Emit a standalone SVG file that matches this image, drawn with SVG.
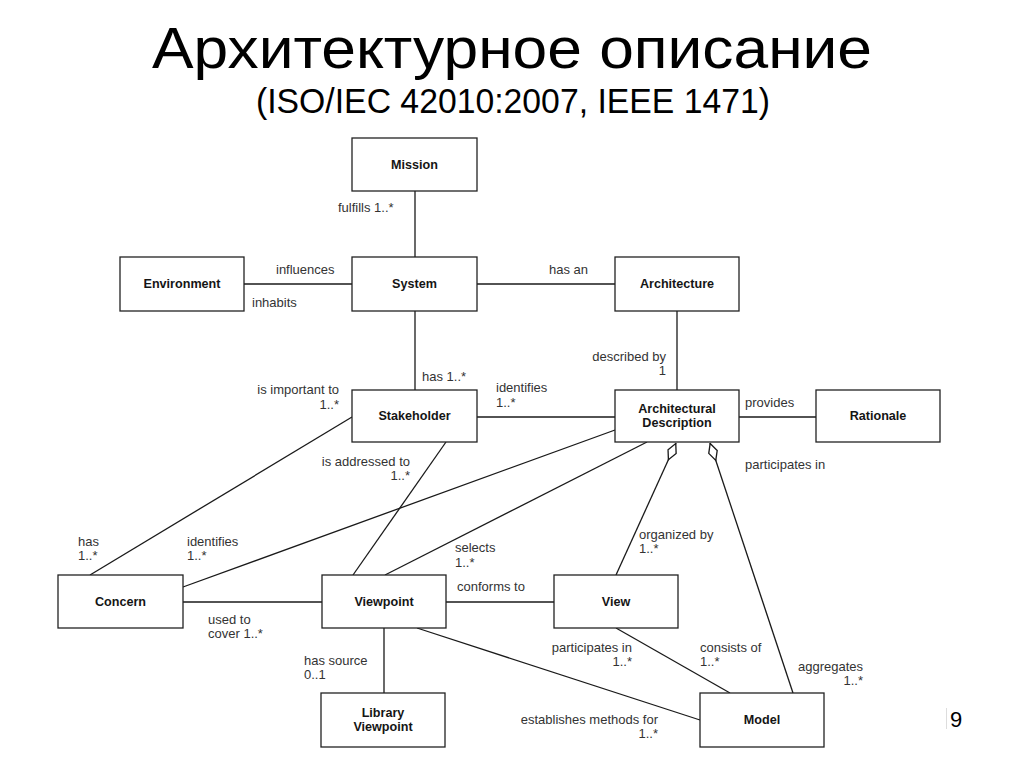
<svg xmlns="http://www.w3.org/2000/svg" width="1024" height="768" viewBox="0 0 1024 768">
<style>
.box{fill:#fff;stroke:#222;stroke-width:1.3}
.nt{font-family:"Liberation Sans",Arial,sans-serif;font-size:12.6px;font-weight:bold;fill:#151515;text-anchor:middle;dominant-baseline:central}
.lb{font-family:"Liberation Sans",Arial,sans-serif;font-size:13px;fill:#333}
.r{text-anchor:end}
.ln{stroke:#1a1a1a;stroke-width:1.3;fill:none}
.ttl{font-family:"Liberation Sans",Arial,sans-serif;fill:#000}
</style>
<defs>
<marker id="dia" markerUnits="userSpaceOnUse" markerWidth="20" markerHeight="12" refX="0" refY="5" orient="auto" viewBox="0 0 18 10">
<path d="M0.5,5 L8.5,1 L16.5,5 L8.5,9 Z" fill="#fff" stroke="#1a1a1a" stroke-width="1.2"/>
</marker>
</defs>
<rect width="1024" height="768" fill="#fff"/>
<g id="title">
<text class="ttl" x="512" y="68" font-size="58" text-anchor="middle" textLength="720" lengthAdjust="spacingAndGlyphs">Архитектурное описание</text>
<text class="ttl" x="513" y="113" font-size="35" text-anchor="middle" textLength="514" lengthAdjust="spacingAndGlyphs">(ISO/IEC 42010:2007, IEEE 1471)</text>
</g>
<g id="connectors">
<line class="ln" x1="415" y1="191" x2="415" y2="257"/>
<line class="ln" x1="244" y1="284" x2="352" y2="284"/>
<line class="ln" x1="477" y1="284" x2="615" y2="284"/>
<line class="ln" x1="415" y1="311" x2="415" y2="390"/>
<line class="ln" x1="677" y1="311" x2="677" y2="390"/>
<line class="ln" x1="477" y1="417" x2="615" y2="417"/>
<line class="ln" x1="739" y1="417" x2="816" y2="417"/>
<line class="ln" x1="352" y1="417" x2="90" y2="575"/>
<line class="ln" x1="446" y1="442" x2="353" y2="575"/>
<line class="ln" x1="615" y1="430" x2="183" y2="587"/>
<line class="ln" x1="647" y1="442" x2="385" y2="575"/>
<line class="ln" x1="183" y1="602" x2="322" y2="602"/>
<line class="ln" x1="446" y1="602" x2="554" y2="602"/>
<line class="ln" x1="384" y1="628" x2="384" y2="693"/>
<line class="ln" x1="417" y1="628" x2="700" y2="720"/>
<line class="ln" x1="616" y1="628" x2="730" y2="693"/>
<line class="ln" x1="676" y1="443" x2="616" y2="575" marker-start="url(#dia)"/>
<line class="ln" x1="710" y1="443" x2="793" y2="693" marker-start="url(#dia)"/>
</g>
<g id="labels">
<text class="lb" x="338" y="212">fulfills 1..*</text>
<text class="lb" x="276" y="274">influences</text>
<text class="lb" x="252" y="307">inhabits</text>
<text class="lb" x="549" y="274">has an</text>
<text class="lb r" x="666" y="361">described by</text>
<text class="lb r" x="666" y="375">1</text>
<text class="lb" x="422" y="381">has 1..*</text>
<text class="lb" x="496" y="392">identifies</text>
<text class="lb" x="496" y="407">1..*</text>
<text class="lb r" x="339" y="394">is important to</text>
<text class="lb r" x="339" y="409">1..*</text>
<text class="lb r" x="410" y="466">is addressed to</text>
<text class="lb r" x="410" y="480">1..*</text>
<text class="lb" x="745" y="407">provides</text>
<text class="lb" x="745" y="469">participates in</text>
<text class="lb" x="78" y="546">has</text>
<text class="lb" x="78" y="560">1..*</text>
<text class="lb" x="187" y="546">identifies</text>
<text class="lb" x="187" y="560">1..*</text>
<text class="lb" x="455" y="552">selects</text>
<text class="lb" x="455" y="567">1..*</text>
<text class="lb" x="639" y="539">organized by</text>
<text class="lb" x="639" y="553">1..*</text>
<text class="lb" x="457" y="591">conforms to</text>
<text class="lb" x="208" y="624">used to</text>
<text class="lb" x="208" y="638">cover 1..*</text>
<text class="lb" x="304" y="665">has source</text>
<text class="lb" x="304" y="679">0..1</text>
<text class="lb r" x="632" y="652">participates in</text>
<text class="lb r" x="632" y="666">1..*</text>
<text class="lb" x="700" y="652">consists of</text>
<text class="lb" x="700" y="666">1..*</text>
<text class="lb r" x="863" y="671">aggregates</text>
<text class="lb r" x="863" y="685">1..*</text>
<text class="lb r" x="658" y="724">establishes methods for</text>
<text class="lb r" x="658" y="738">1..*</text>
</g>
<g id="mission"><rect class="box" x="352" y="138" width="125" height="53"/><text class="nt" x="414.5" y="164.5">Mission</text></g>
<g id="environment"><rect class="box" x="120" y="257" width="124" height="54"/><text class="nt" x="182" y="284">Environment</text></g>
<g id="system"><rect class="box" x="352" y="257" width="125" height="54"/><text class="nt" x="414.5" y="284">System</text></g>
<g id="architecture"><rect class="box" x="615" y="257" width="124" height="54"/><text class="nt" x="677" y="284">Architecture</text></g>
<g id="stakeholder"><rect class="box" x="352" y="390" width="125" height="52"/><text class="nt" x="414.5" y="416">Stakeholder</text></g>
<g id="architectural-description"><rect class="box" x="615" y="390" width="124" height="52"/><text class="nt" x="677" y="409">Architectural</text><text class="nt" x="677" y="423">Description</text></g>
<g id="rationale"><rect class="box" x="816" y="390" width="124" height="52"/><text class="nt" x="878" y="416">Rationale</text></g>
<g id="concern"><rect class="box" x="58" y="575" width="125" height="53"/><text class="nt" x="120.5" y="601.5">Concern</text></g>
<g id="viewpoint"><rect class="box" x="322" y="575" width="124" height="53"/><text class="nt" x="384" y="601.5">Viewpoint</text></g>
<g id="view"><rect class="box" x="554" y="575" width="124" height="53"/><text class="nt" x="616" y="601.5">View</text></g>
<g id="library-viewpoint"><rect class="box" x="321" y="693" width="124" height="54"/><text class="nt" x="383" y="713">Library</text><text class="nt" x="383" y="727">Viewpoint</text></g>
<g id="model"><rect class="box" x="700" y="693" width="124" height="54"/><text class="nt" x="762" y="720">Model</text></g>
<g id="page-number"><line x1="946.5" y1="708" x2="946.5" y2="729" stroke="#ddd" stroke-width="1"/><text class="ttl" x="950" y="727" font-size="22">9</text></g>
</svg>
